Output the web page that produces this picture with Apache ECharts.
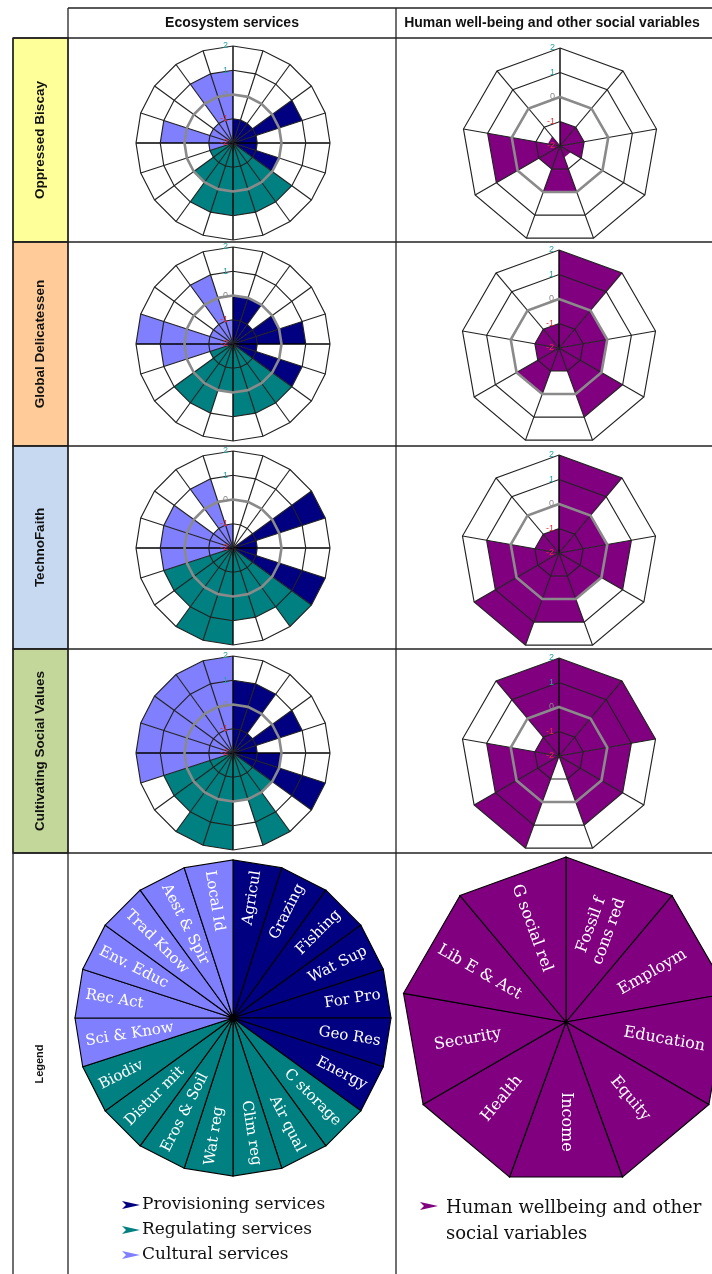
<!DOCTYPE html>
<html><head><meta charset="utf-8">
<script src="https://cdn.jsdelivr.net/npm/echarts@6/dist/echarts.min.js"></script>
<style>html,body{margin:0;padding:0;background:#fff}#c{width:712px;height:1274px}</style>
</head><body><div id="c"></div>
<script>
// ---------- DATA ----------
const esCategories = ['Agricul','Grazing','Fishing','Wat Sup','For Pro','Geo Res','Energy',
  'C storage','Air qual','Clim reg','Wat reg','Eros & Soil','Distur mit','Biodiv',
  'Sci & Know','Rec Act','Env. Educ','Trad Know','Aest & Spir','Local Id'];
const esGroupOf = [0,0,0,0,0,0,0, 1,1,1,1,1,1,1, 2,2,2,2,2,2];
const esGroupNames = ['Provisioning services','Regulating services','Cultural services'];
const hwCategories = ['Fossil f\ncons red','Employm','Education','Equity','Income','Health','Security','Lib E & Act','G social rel'];
const hwLegendName = 'Human wellbeing and other\nsocial variables';
const scenarios = ['Oppressed Biscay','Global Delicatessen','TechnoFaith','Cultivating Social Values'];
const columnTitles = ['Ecosystem services','Human well-being and other social variables'];
const ringTicks = [-2,-1,0,1,2];

const esOppressedBiscay         = [-1,-1,-1, 1,-1,-1, 0,  1, 1, 1, 1, 1, 0,-1, -1, 1,-1,-1, 1, 1];
const esGlobalDelicatessen      = [ 0, 0,-1, 0, 1,-1, 1,  1, 1, 1, 0, 1, 1,-1,  1, 2,-1,-1, 1,-1];
const esTechnoFaith             = [-2,-2,-2, 2,-1,-1, 2,  2, 1, 1, 2, 2, 1, 1,  1, 1, 1,-1, 1,-1];
const esCultivatingSocialValues = [ 1, 1,-1, 1,-1, 0, 2,  0, 2, 0, 2, 2, 1, 1,  2, 2, 2, 2, 2, 2];

const hwOppressedBiscay         = [-1,-1,-1,-1.5, 0,-1, 1,-1.5,-2];
const hwGlobalDelicatessen      = [ 2, 0, 0, 1,-1, 0,-1,-1,-1];
const hwTechnoFaith             = [ 2, 0, 1, 0, 1, 2, 1,-1,-1];
const hwCultivatingSocialValues = [ 2, 2, 1, 1,-2, 2, 1,-1, 2];

// ---------- STYLE / LAYOUT ----------
const esColors = ['#000080','#008080','#8080ff'];
const hwColor = '#800080';
const rowColors = ['#ffff99','#ffcc99','#c6d9f1','#c4d79b'];
const rowEdges = [38,242,446,649,853];
const esCenters = [[233,143],[233,344],[233,548],[233,753]];
const hwCenters = [[560,146],[559,348],[559,553],[559,756]];
const esData = [esOppressedBiscay, esGlobalDelicatessen, esTechnoFaith, esCultivatingSocialValues];
const hwData = [hwOppressedBiscay, hwGlobalDelicatessen, hwTechnoFaith, hwCultivatingSocialValues];
const tickColor = {'2':'#2aa0a0','1':'#2aa0a0','0':'#888','-1':'#e0303c','-2':'#e0303c'};

const polar = [], angleAxis = [], radiusAxis = [], series = [];
function addPolar(center, r) {
  const i = polar.length;
  polar.push({center: center, radius: r});
  angleAxis.push({polarIndex: i, type: 'value', min: 0, max: 360, startAngle: 90, clockwise: true, show: false});
  radiusAxis.push({polarIndex: i, type: 'value', min: -2, max: 2, show: false});
  return i;
}

function fillSeries(pi, values, n, colorFn, stroke) {
  return {
    type: 'custom', coordinateSystem: 'polar', polarIndex: pi, z: 2, silent: true, animation: false,
    data: values.map((v, i) => [v, i]),
    renderItem(params, api) {
      const v = api.value(0), i = api.value(1), step = 360 / n;
      if (v <= -2) return {type: 'group', children: []};
      const c = api.coord([-2, 0]);
      return {type: 'polygon', shape: {points: [c, api.coord([v, i * step]), api.coord([v, (i + 1) * step])]},
        style: {fill: colorFn(i), stroke: stroke || 'none', lineWidth: stroke ? 1.1 : 0}};
    }
  };
}

function gridSeries(pi, n) {
  return {
    type: 'custom', coordinateSystem: 'polar', polarIndex: pi, z: 3, silent: true, animation: false,
    data: [[0, 0]],
    renderItem(params, api) {
      const step = 360 / n, ch = [];
      const c = api.coord([-2, 0]);
      for (let k = 0; k < n; k++) {
        const p = api.coord([2, k * step]);
        const main = (k * step) % 90 === 0;
        ch.push({type: 'line', shape: {x1: c[0], y1: c[1], x2: p[0], y2: p[1]},
          style: {stroke: main ? '#000' : '#222', lineWidth: main ? 1.4 : 1.15}});
      }
      [-1, 1, 2, 0].forEach(t => {
        const pts = [];
        for (let k = 0; k < n; k++) pts.push(api.coord([t, k * step]));
        ch.push({type: 'polygon', shape: {points: pts},
          style: {fill: 'none', stroke: t === 0 ? '#8a8a8a' : '#222', lineWidth: t === 0 ? 2.6 : 1.15}});
      });
      ringTicks.forEach(t => {
        const p = api.coord([t, 0]);
        ch.push({type: 'text', x: p[0] - 5, y: p[1],
          style: {text: String(t), align: 'right', verticalAlign: 'middle', fill: tickColor[String(t)],
            fontSize: 9, fontFamily: 'Liberation Sans'}});
      });
      return {type: 'group', children: ch};
    }
  };
}

function labelSeries(pi, names, n, rAnchor, font, mode) {
  return {
    type: 'custom', coordinateSystem: 'polar', polarIndex: pi, z: 4, silent: true, animation: false,
    data: names.map((nm, i) => [rAnchor, i]),
    renderItem(params, api) {
      const i = api.value(1), step = 360 / n, th = (i + 0.5) * step;
      const p = api.coord([api.value(0), th]);
      const right = th <= 180;
      const rot = (right ? 90 - th : 270 - th) * Math.PI / 180;
      const align = mode === 'center' ? 'center' : (right ? 'right' : 'left');
      return {type: 'text', x: p[0], y: p[1], rotation: rot,
        style: {text: names[i], fill: '#fff', font: font, align: align, verticalAlign: 'middle', lineHeight: 19}};
    }
  };
}

for (let r = 0; r < 4; r++) {
  const pe = addPolar(esCenters[r], 97);
  series.push(fillSeries(pe, esData[r], 20, i => esColors[esGroupOf[i]]));
  series.push(gridSeries(pe, 20));
  const ph = addPolar(hwCenters[r], 98);
  series.push(fillSeries(ph, hwData[r], 9, () => hwColor));
  series.push(gridSeries(ph, 9));
}
// legend wheels
const pel = addPolar([233, 1018], 158);
series.push(fillSeries(pel, esCategories.map(() => 2), 20, i => esColors[esGroupOf[i]], '#000'));
series.push(labelSeries(pel, esCategories, 20, 1.78, '15px "DejaVu Serif"', 'end'));
const phl = addPolar([566, 1022], 165);
series.push(fillSeries(phl, hwCategories.map(() => 2), 9, () => hwColor, '#000'));
series.push(labelSeries(phl, hwCategories, 9, 0.42, '16px "DejaVu Serif"', 'center'));

// ---------- TABLE GRAPHICS ----------
const g = [];
const line = (x1, y1, x2, y2) => g.push({type: 'line', shape: {x1, y1, x2, y2}, style: {stroke: '#222', lineWidth: 1.3}, z: 10});
for (let r = 0; r < 4; r++) {
  g.push({type: 'rect', shape: {x: 13, y: rowEdges[r], width: 55, height: rowEdges[r + 1] - rowEdges[r]},
    style: {fill: rowColors[r], stroke: '#222', lineWidth: 1.3}, z: 9});
  g.push({type: 'text', x: 40, y: (rowEdges[r] + rowEdges[r + 1]) / 2, rotation: Math.PI / 2,
    style: {text: scenarios[r], font: 'bold 13.5px "Liberation Sans"', fill: '#111', align: 'center', verticalAlign: 'middle'}, z: 11});
}
g.push({type: 'text', x: 40, y: 1064, rotation: Math.PI / 2,
  style: {text: 'Legend', font: 'bold 11px "Liberation Sans"', fill: '#111', align: 'center', verticalAlign: 'middle'}, z: 11});
line(68, 8, 712, 8);
line(68, 8, 68, 1274);
line(396, 8, 396, 1274);
line(13, 38, 13, 1274);
rowEdges.forEach(y => line(13, y, 712, y));
g.push({type: 'text', x: 232, y: 23, style: {text: columnTitles[0], font: 'bold 14px "Liberation Sans"', fill: '#111', align: 'center', verticalAlign: 'middle'}});
g.push({type: 'text', x: 552, y: 23, style: {text: columnTitles[1], font: 'bold 14px "Liberation Sans"', fill: '#111', align: 'center', verticalAlign: 'middle'}});
// legend keys
const arrow = [[0, -4], [18, 0], [0, 4], [4, 0]];
esGroupNames.forEach((nm, k) => {
  const y = 1205 + k * 25;
  g.push({type: 'polygon', x: 122, y: y, shape: {points: arrow}, style: {fill: esColors[k]}});
  g.push({type: 'text', x: 142, y: y, style: {text: nm, font: '17px "DejaVu Serif"', fill: '#111', verticalAlign: 'middle'}});
});
g.push({type: 'polygon', x: 420, y: 1206, shape: {points: arrow}, style: {fill: hwColor}});
g.push({type: 'text', x: 446, y: 1221, style: {text: hwLegendName, font: '18px "DejaVu Serif"', fill: '#111', verticalAlign: 'middle', lineHeight: 26}});

const chart = echarts.init(document.getElementById('c'));
chart.setOption({animation: false, polar, angleAxis, radiusAxis, series, graphic: {elements: g}});
</script></body></html>
